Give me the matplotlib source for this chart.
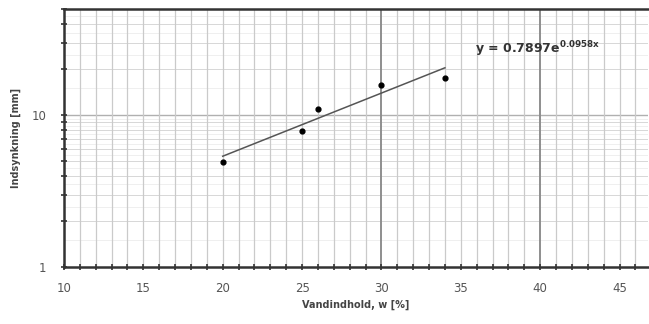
import numpy as np
import matplotlib.pyplot as plt
from matplotlib.ticker import FixedLocator, NullFormatter

# Data
w = [20, 25, 26, 30, 34]                 # Vandindhold, w [%]
ind = [4.9, 7.9, 10.9, 15.7, 17.7]       # Indsynkning [mm]
a, b = 0.7897, 0.0958                    # trendline y = a*exp(b*x)
x_ticks = [10, 15, 20, 25, 30, 35, 40, 45]
y_ticks = [1, 10]

fig = plt.figure(figsize=(6.49, 3.24), dpi=100)
ax = fig.add_axes([0.0986, 0.176, 0.9, 0.796])

ax.set_yscale('log')
ax.set_xlim(10, 46.8)
ax.set_ylim(1, 50)

# grid: finest horizontal lines
fine = []
for dec in [1, 10]:
    for v in np.arange(1.0, 10.0, 0.5):
        fine.append(v * dec)
for v in fine:
    if v <= 50:
        ax.axhline(v, color='#ececec', lw=0.6, zorder=0)
for dec in [1, 10]:
    for v in range(2, 10):
        if v * dec <= 50:
            ax.axhline(v * dec, color='#d8d8d8', lw=0.7, zorder=0.5)
ax.axhline(10, color='#b0b0b0', lw=1.0, zorder=0.6)

for xv in range(10, 47):
    if xv in (30, 40):
        c, lw = '#8e8e8e', 1.4
    else:
        c, lw = '#cacaca', 0.9
    ax.axvline(xv, color=c, lw=lw, zorder=0.7)

# trendline and points
xs = np.linspace(w[0], w[-1], 50)
ax.plot(xs, a * np.exp(b * xs), color='#555555', lw=1.1, zorder=3)
ax.scatter(w, ind, s=12, color='black', zorder=4)

ax.text(35.9, 27.4, r'y = 0.7897e$^{\mathregular{0.0958x}}$', fontsize=9,
        fontweight='bold', color='#333333', va='center', ha='left')

ax.set_xticks(x_ticks)
ax.xaxis.set_minor_locator(FixedLocator(range(10, 47)))
ax.set_yticks(y_ticks)
ax.set_yticklabels(['1', '10'])
ax.yaxis.set_minor_locator(FixedLocator([2, 3, 4, 5, 6, 7, 8, 9, 20, 30, 40, 50]))
ax.yaxis.set_minor_formatter(NullFormatter())

ax.tick_params(axis='both', which='major', labelsize=8.5, colors='#333333',
               labelcolor='#555555', direction='inout', length=5, width=1.2)
ax.tick_params(axis='both', which='minor', direction='inout', length=4, width=1.2,
               colors='#333333')
ax.tick_params(axis='x', pad=8)
ax.tick_params(axis='y', pad=10)

for s in ['left', 'bottom', 'top']:
    ax.spines[s].set_color('#333333')
    ax.spines[s].set_linewidth(1.8)
ax.spines['right'].set_visible(False)

ax.set_xlabel('Vandindhold, w [%]', fontsize=7, fontweight='bold', color='#444444')
ax.set_ylabel('Indsynkning [mm]', fontsize=7, fontweight='bold', color='#444444',
              labelpad=8)

fig.savefig('out.png', dpi=100)
